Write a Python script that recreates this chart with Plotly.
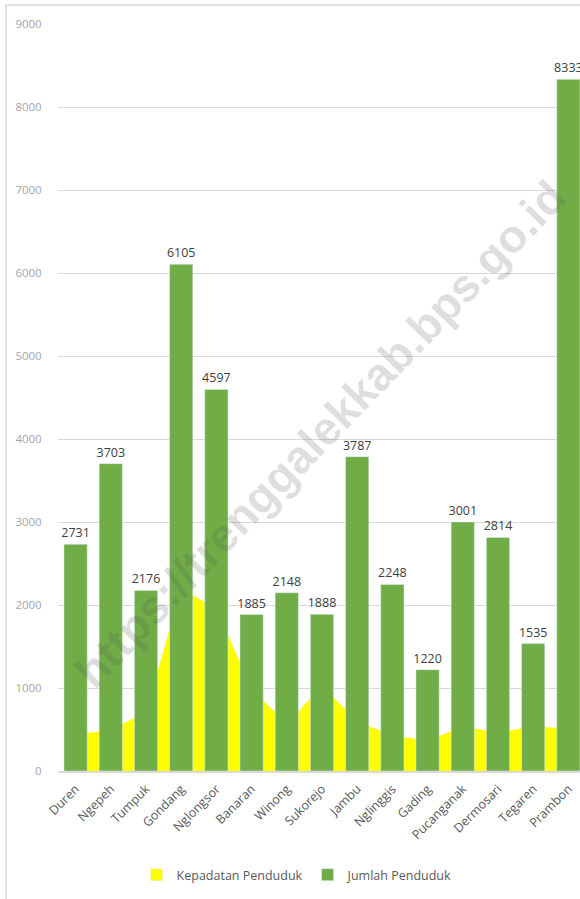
import plotly.graph_objects as go

desa = ["Duren", "Ngepeh", "Tumpuk", "Gondang", "Nglongsor", "Banaran", "Winong",
        "Sukorejo", "Jambu", "Nglinggis", "Gading", "Pucanganak", "Dermosari",
        "Tegaren", "Prambon"]
jumlah_penduduk = [2731, 3703, 2176, 6105, 4597, 1885, 2148, 1888, 3787, 2248,
                   1220, 3001, 2814, 1535, 8333]
kepadatan_penduduk = [440, 495, 712, 2200, 1955, 990, 570, 1027, 593, 433,
                      360, 540, 460, 540, 510]

W, H = 580, 899
L, T, B = 58, 24, 128

YELLOW = "#FFFF00"
GREEN = "#70AD47"

fig = go.Figure()

# area goes on the base axis so the bars (overlaying axis) sit on top of it
fig.add_trace(go.Scatter(
    name="Kepadatan Penduduk",
    x=desa, y=kepadatan_penduduk,
    mode="none", fill="tozeroy",
    fillcolor=YELLOW,
    yaxis="y", showlegend=False,
))
# legend stand-in so the key is a square like the original
fig.add_trace(go.Bar(
    name="Kepadatan Penduduk",
    x=[desa[0]], y=[0],
    marker=dict(color=YELLOW),
    yaxis="y", hoverinfo="skip",
))
fig.add_trace(go.Bar(
    name="Jumlah Penduduk",
    x=desa, y=jumlah_penduduk,
    marker=dict(color=GREEN),
    text=[str(v) for v in jumlah_penduduk],
    textposition="outside",
    constraintext="none",
    textfont=dict(color="#404040", size=12.5),
    yaxis="y2",
))

fig.update_layout(
    width=W, height=H,
    margin=dict(l=L, r=0, t=T, b=B, pad=0),
    paper_bgcolor="white", plot_bgcolor="white",
    font=dict(family="Open Sans, Noto Sans, sans-serif", color="#595959"),
    bargap=0.34, barmode="overlay",
    showlegend=True,
    legend=dict(orientation="h", x=0.458, xanchor="center",
                y=-(875 - 771) / 747, yanchor="middle",
                font=dict(size=12.5, color="#595959"),
                itemwidth=30, traceorder="normal"),
    xaxis=dict(range=[-0.5, 14.33], showline=True, linecolor="#D9D9D9",
               linewidth=1.5, tickangle=-45, tickfont=dict(size=12.5, color="#595959"),
               ticks="outside", ticklen=4, tickcolor="rgba(0,0,0,0)", showgrid=False),
    yaxis=dict(range=[0, 9000], dtick=1000, showgrid=True, gridcolor="#D9D9D9",
               gridwidth=1, zeroline=False, ticks="outside", ticklen=13,
               tickcolor="rgba(0,0,0,0)", tickfont=dict(size=11.5, color="#A6A6A6")),
    yaxis2=dict(range=[0, 9000], overlaying="y", visible=False, showgrid=False),
)

# outer chart border (left and top edges visible)
bx = (6 - L) / (W - L)
by_top = (771 - 5) / 747
by_bot = (771 - H) / 747
fig.add_shape(type="line", xref="paper", yref="paper", x0=bx, x1=bx, y0=by_bot, y1=by_top,
              line=dict(color="#D9D9D9", width=1.5))
fig.add_shape(type="line", xref="paper", yref="paper", x0=bx, x1=1.05, y0=by_top, y1=by_top,
              line=dict(color="#D9D9D9", width=1.5))

# watermark
fig.add_annotation(
    text="https://trenggalekkab.bps.go.id",
    xref="paper", yref="paper",
    x=(320 - L) / (W - L), y=(771 - 434) / 747,
    showarrow=False, textangle=-46,
    font=dict(family="Liberation Sans, Arial, sans-serif", size=46,
              color="rgba(80,80,80,0.19)", weight="bold"),
)

fig.write_html("out.html",
               config={"displayModeBar": False},
               post_script="document.body.style.margin='0';"
                           "document.documentElement.style.overflow='hidden';")
